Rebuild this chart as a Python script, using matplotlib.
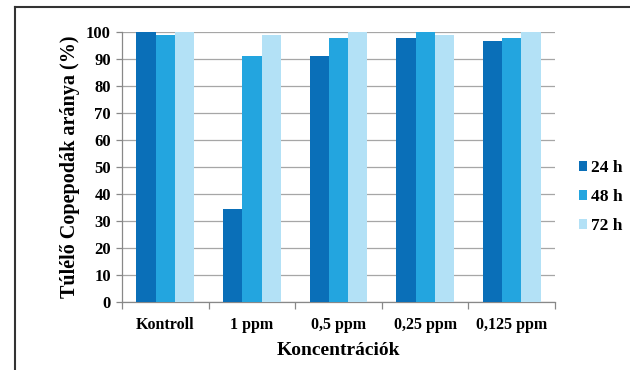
import numpy as np
import matplotlib.pyplot as plt
from matplotlib.lines import Line2D

categories = ['Kontroll', '1 ppm', '0,5 ppm', '0,25 ppm', '0,125 ppm']
series_names = ['24 h', '48 h', '72 h']
h24 = [100, 34.5, 91, 97.7, 96.6]
h48 = [98.8, 91, 97.7, 100, 97.7]
h72 = [100, 98.8, 100, 98.8, 100]
colors = ['#0A6FB8', '#23A5DF', '#B3E1F6']

plt.rcParams['font.family'] = ['Liberation Serif', 'DejaVu Serif']
plt.rcParams['font.weight'] = 'bold'

fig = plt.figure(figsize=(6.3, 3.7), dpi=100)
ax = fig.add_axes([0.1937, 0.1838, 0.6873, 0.7297])

x = np.arange(len(categories))
w = 0.222
for i, (vals, name) in enumerate(zip([h24, h48, h72], series_names)):
    ax.bar(x + (i - 1) * w, vals, width=w, color=colors[i], label=name, zorder=3)

ax.set_xlim(-0.5, len(categories) - 0.5)
ax.set_ylim(0, 100)
ax.set_yticks(np.arange(0, 101, 10))
ax.yaxis.grid(True, color='#A6A6A6', linewidth=0.9, zorder=0)
ax.set_xticks(x)
ax.set_xticklabels(categories, fontsize=11.5, fontweight='bold')
ax.set_xticks(np.arange(-0.5, len(categories)), minor=True)
ax.tick_params(axis='x', which='major', length=0, pad=11)
ax.tick_params(axis='x', which='minor', length=5, color='#888888', width=0.9)
ax.tick_params(axis='y', length=4, color='#888888', width=0.9, labelsize=12, pad=4)
for lbl in ax.get_yticklabels():
    lbl.set_fontweight('bold')

for s in ['top', 'right']:
    ax.spines[s].set_visible(False)
for s in ['left', 'bottom']:
    ax.spines[s].set_color('#888888')
    ax.spines[s].set_linewidth(0.9)

ax.set_xlabel('Koncentrációk', fontsize=14, fontweight='bold', labelpad=6)
ax.set_ylabel('Túlélő Copepodák aránya (%)', fontsize=14.5, fontweight='bold', labelpad=4)

ax.legend(loc='center left', bbox_to_anchor=(579 / 630, 1 - 197 / 370),
          bbox_transform=fig.transFigure, frameon=False, borderpad=0, borderaxespad=0,
          prop={'size': 12.5, 'weight': 'bold'}, handlelength=0.45, handleheight=0.5,
          handletextpad=0.25, labelspacing=0.75)

# frame lines (left and top only)
fig.add_artist(Line2D([15 / 630, 15 / 630], [0, 1 - 7 / 370], color='#333333', linewidth=1.5))
fig.add_artist(Line2D([15 / 630, 1], [1 - 7 / 370, 1 - 7 / 370], color='#333333', linewidth=1.5))

fig.savefig('out.png', dpi=100)
